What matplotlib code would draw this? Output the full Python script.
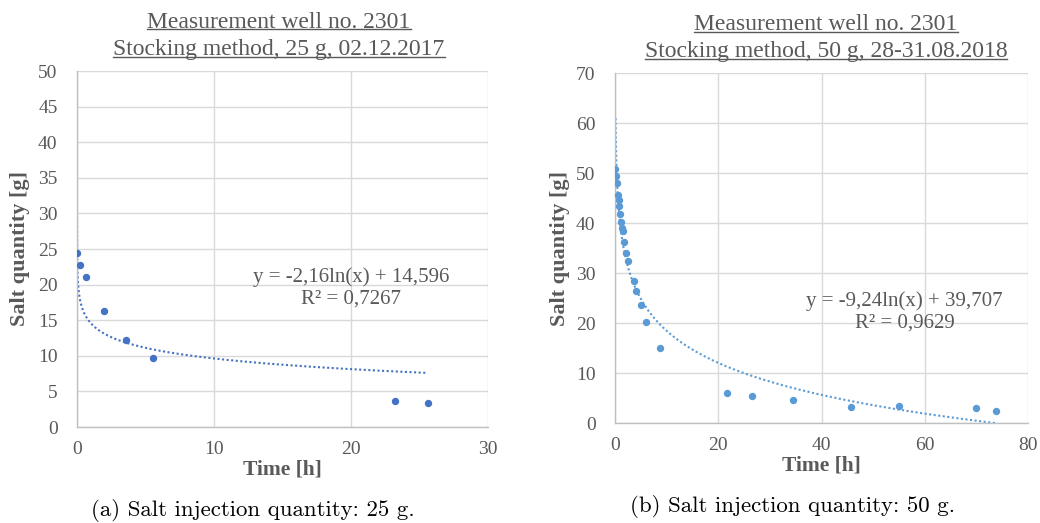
import numpy as np
import matplotlib
matplotlib.use("Agg")
import matplotlib.pyplot as plt
from matplotlib.lines import Line2D

# ---- data ----
t_a = [0.0, 0.22, 0.63, 1.97, 3.6, 5.52, 23.2, 25.6]
m_a = [24.4, 22.75, 21.07, 16.25, 12.2, 9.74, 3.65, 3.37]
fit_a = (-2.16, 14.596)
r2_a = "0,7267"

t_b = [0.0, 0.26, 0.39, 0.52, 0.71, 0.84, 1.03, 1.16, 1.36, 1.55, 1.81, 2.13, 2.52,
       3.68, 4.07, 5.03, 6.07, 8.71, 21.75, 26.6, 34.4, 45.8, 55.0, 70.0, 73.8]
m_b = [50.8, 49.4, 48.1, 45.7, 44.7, 43.5, 41.9, 40.3, 39.1, 38.5, 36.2, 34.1, 32.5,
       28.4, 26.5, 23.7, 20.3, 15.1, 6.07, 5.33, 4.6, 3.2, 3.33, 2.93, 2.47]
fit_b = (-9.24, 39.707)
r2_b = "0,9629"

titles = ["Measurement well no. 2301\nStocking method, 25 g, 02.12.2017",
          "Measurement well no. 2301\nStocking method, 50 g, 28-31.08.2018"]
captions = ["(a) Salt injection quantity: 25 g.", "(b) Salt injection quantity: 50 g."]

W, H = 1040, 523
fig = plt.figure(figsize=(W / 100, H / 100), dpi=100)

def px(x0, y0, x1, y1):
    return [x0 / W, 1 - y1 / H, (x1 - x0) / W, (y1 - y0) / H]

GRAY = "#595959"
SERIF = "Liberation Serif"

def setup(ax, xmax, xstep, ymax, ystep, ypad, ylabpad):
    ax.set_xlim(0, xmax)
    ax.set_ylim(0, ymax)
    ax.set_xticks(np.arange(0, xmax + 0.1, xstep))
    ax.set_yticks(np.arange(0, ymax + 0.1, ystep))
    ax.grid(True, color="#D9D9D9", lw=1.0)
    ax.set_axisbelow(True)
    for s in ["top", "right"]:
        ax.spines[s].set_visible(False)
    for s in ["left", "bottom"]:
        ax.spines[s].set_color("#BFBFBF")
        ax.spines[s].set_linewidth(1.0)
    ax.tick_params(length=0, labelsize=14, colors=GRAY)
    ax.tick_params(axis="y", pad=ypad)
    ax.tick_params(axis="x", pad=10)
    for lab in ax.get_xticklabels() + ax.get_yticklabels():
        lab.set_fontfamily(SERIF)
    ax.set_xlabel("Time [h]", fontsize=15.5, fontweight="bold", color=GRAY,
                  fontfamily=SERIF, labelpad=1)
    ax.set_ylabel("Salt quantity [g]", fontsize=16, fontweight="bold", color=GRAY,
                  fontfamily=SERIF, labelpad=ylabpad)

# left
ax1 = fig.add_axes(px(77, 71, 488, 427))
setup(ax1, 30, 10, 50, 5, 14, 6)
c1 = "#4472C4"
ax1.plot(t_a, m_a, "o", color=c1, ms=4.3, zorder=3)
xf = np.linspace(0.001, max(t_a), 4000)
ax1.plot(xf, fit_a[0] * np.log(xf) + fit_a[1], ls=(0, (1, 1.2)), color=c1, lw=1.5)
ax1.text(0.667, 0.39, "y = -2,16ln(x) + 14,596\nR² = " + r2_a,
         transform=ax1.transAxes, ha="center", va="center", fontsize=15,
         color=GRAY, fontfamily=SERIF, linespacing=1.2)

# right
ax2 = fig.add_axes(px(615, 73, 1028, 423))
setup(ax2, 80, 20, 70, 10, 14, 4)
c2 = "#5B9BD5"
ax2.plot(t_b, m_b, "o", color=c2, ms=4.3, zorder=3)
xf2 = np.linspace(0.1, max(t_b), 4000)
ax2.plot(xf2, fit_b[0] * np.log(xf2) + fit_b[1], ls=(0, (1, 1.2)), color=c2, lw=1.5)
ax2.text(0.701, 0.317, "y = -9,24ln(x) + 39,707\nR² = " + r2_b,
         transform=ax2.transAxes, ha="center", va="center", fontsize=15,
         color=GRAY, fontfamily=SERIF, linespacing=1.2)

# titles with underline
title_pos = [(279, 22, 50), (826, 25, 52)]
texts = []
for (cx, y1, y2), ttl in zip(title_pos, titles):
    for yy, line in zip((y1, y2), ttl.split("\n")):
        t = fig.text(cx / W, 1 - yy / H, line, ha="center", va="center",
                     fontsize=17, color=GRAY, fontfamily=SERIF)
        texts.append(t)

fig.canvas.draw()
r = fig.canvas.get_renderer()
for t in texts:
    bb = t.get_window_extent(r)
    yline = bb.y0 + 0.17 * bb.height
    fig.add_artist(Line2D([bb.x0 / W, bb.x1 / W], [yline / H, yline / H],
                          transform=fig.transFigure, color=GRAY, lw=1.0))

# captions
for (cx, cy), cap in zip([(253, 510), (792, 507)], captions):
    fig.text(cx / W, 1 - cy / H, cap, ha="center", va="center", fontsize=16.5,
             color="black", fontfamily="cmr10")

fig.savefig("out.png", dpi=100, facecolor="white")
